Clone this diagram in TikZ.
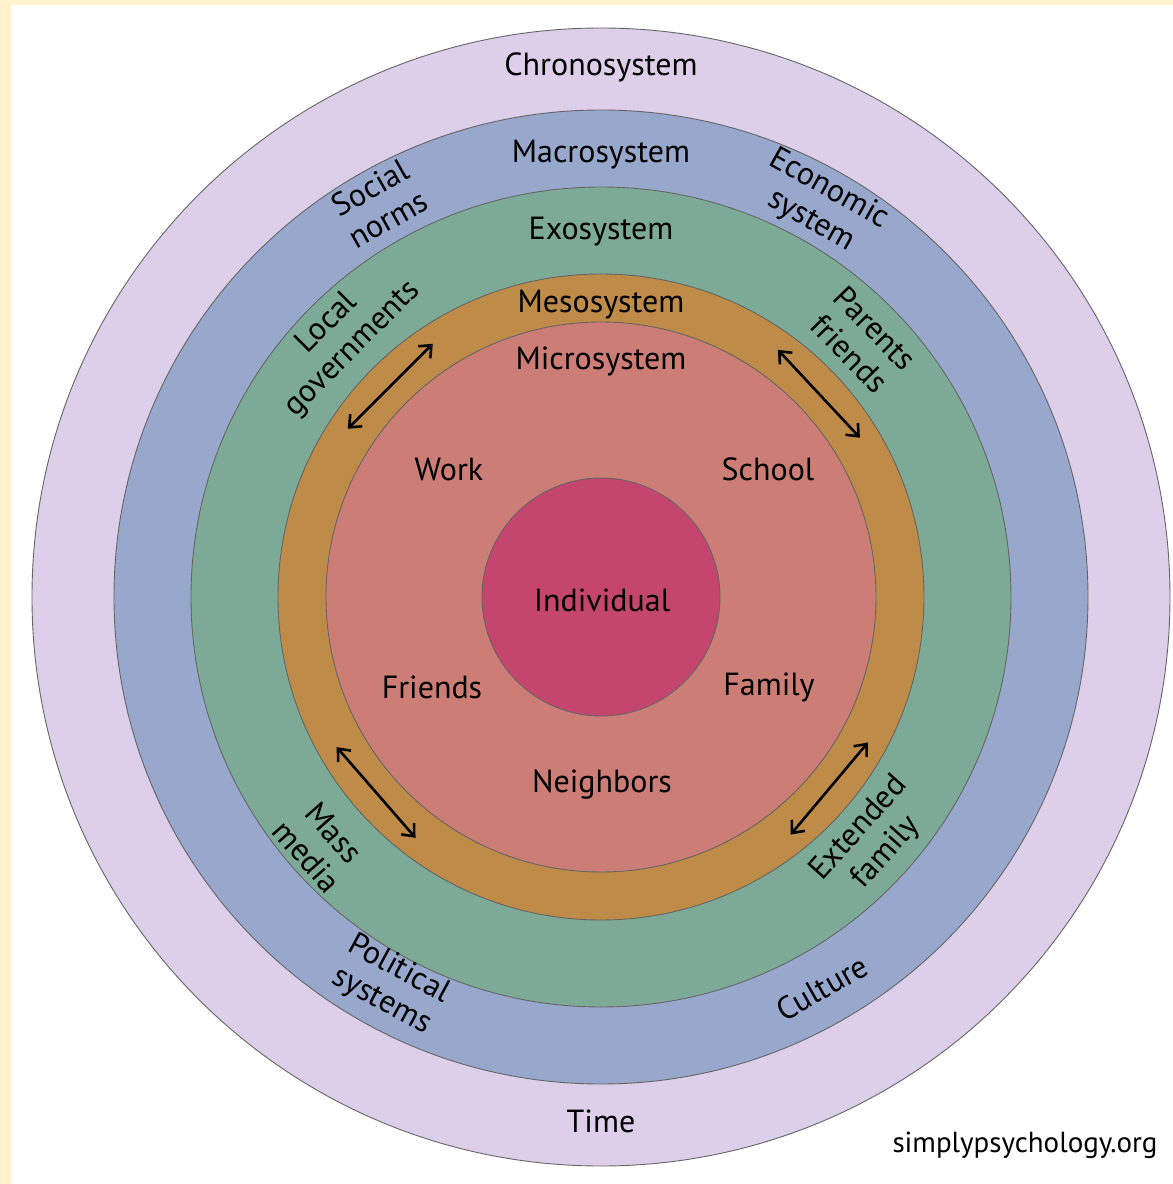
\documentclass[tikz,border=0pt]{standalone}
\usepackage{fontspec}
\setmainfont{PT Sans}
\usetikzlibrary{arrows.meta}

\definecolor{cream}{RGB}{255,242,204}
\definecolor{chrono}{RGB}{221,206,233}
\definecolor{macro}{RGB}{152,168,204}
\definecolor{exo}{RGB}{125,170,150}
\definecolor{meso}{RGB}{190,140,72}
\definecolor{micro}{RGB}{204,126,118}
\definecolor{indiv}{RGB}{196,69,110}

\begin{document}
\begin{tikzpicture}[
x=1pt,
y=1pt,
ring/.style={
  draw=black!60,
  line width=0.9pt,
  circle,
  inner sep=0pt
  },
lbl/.style={
  font=\fontsize{32}{36}\selectfont,
  align=center,
  inner sep=0pt
  },
link/.style={
  <->,
  line width=2.6pt
  },
>={Straight Barb[length=10pt,width=17pt]}
]
% page and margins
\fill[cream] (-601,-587) rectangle (572,597);
\fill[white] (-590,-587) rectangle (572,592);
\useasboundingbox (-601,-587) rectangle (572,597);

% the nested systems
\foreach \nm/\r in {chrono/569,macro/487,exo/410,meso/323,micro/275,indiv/119}
  \node[ring, fill=\nm, minimum size=2*\r pt] (\nm) at (0,0) {};

% system names
\node[lbl] (chronolbl) at (90:530) {Chronosystem};
\node[lbl] (macrolbl) at (90:442) {Macrosystem};
\node[lbl] (exolbl) at (90:365) {Exosystem};
\node[lbl] (mesolbl) at (90:292) {Mesosystem};
\node[lbl] (microlbl) at (90:236) {Microsystem};
\node[lbl] (time) at (270:524) {Time};
\node[lbl] (indivlbl) at (1,-3) {Individual};

% microsystem
\node[lbl] (work) at (-152,128) {Work};
\node[lbl] (school) at (167,128) {School};
\node[lbl] (friends) at (-169,-90) {Friends};
\node[lbl] (family) at (168,-90) {Family};
\node[lbl] (neighbors) at (1,-188) {Neighbors};

% exosystem and macrosystem
\node[lbl, rotate=29.4] (social) at (119.4:452) {Social\\norms};
\node[lbl, rotate=-29.2] (economic) at (60.8:449) {Economic\\system};
\node[lbl, rotate=45] (local) at (135:369) {Local\\governments};
\node[lbl, rotate=-45.6] (parents) at (44.4:366) {Parents\\friends};
\node[lbl, rotate=-48.6] (mass) at (221.4:374) {Mass\\media};
\node[lbl, rotate=48.1] (extended) at (-41.9:365) {Extended\\family};
\node[lbl, rotate=-28.5] (political) at (241.5:442) {Political\\systems};
\node[lbl, rotate=29.5] (culture) at (-60.5:449) {Culture};

% mesosystem links
\foreach \a [count=\i] in {135,43,221,-40}
{
  \coordinate (s\i) at (\a-11.4:304);
  \coordinate (e\i) at (\a+11.4:304);
  \draw[link] (s\i) -- (e\i);
}

\node[lbl, font=\fontsize{29}{32}\selectfont] (site) at (424,-548) {simplypsychology.org};
\end{tikzpicture}
\end{document}
